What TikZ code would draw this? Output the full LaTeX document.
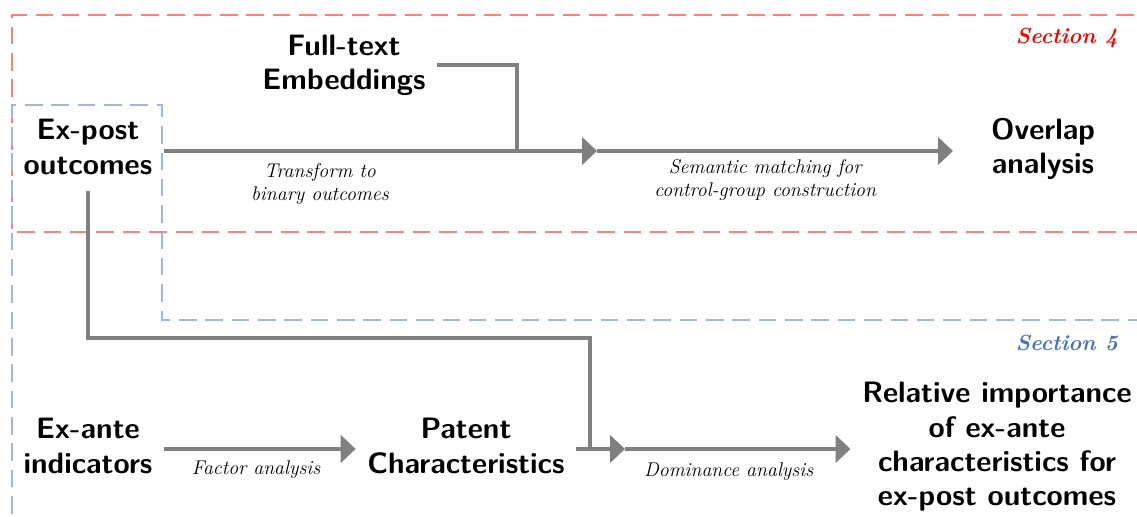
\documentclass[tikz,border=0pt]{standalone}
\usepackage{tikz}
\usetikzlibrary{arrows.meta,positioning,calc}
\definecolor{secblue}{RGB}{68,114,196}
\definecolor{boxred}{RGB}{255,128,128}
\definecolor{boxblue}{RGB}{160,182,228}

\begin{document}
\begin{tikzpicture}[x=0.02cm, y=-0.02cm,
    stage/.style={align=center, inner sep=6.5pt, font=\sffamily\bfseries\fontsize{16.8}{19.5}\selectfont},
    lbl/.style={align=center, text=black, font=\itshape\fontsize{11.3}{13}\selectfont, inner sep=2pt},
    sec/.style={anchor=east, font=\bfseries\itshape\fontsize{12.5}{15}\selectfont},
    line/.style={line width=2.6pt, gray},
    arr/.style={line, -{Triangle[length=8.5pt, width=15.5pt]}},
    frame/.style={line width=1.5pt, dash pattern=on 10pt off 5pt}
]
    \useasboundingbox (0,0) rectangle (1137,517);

    % section frames
    \draw[frame, boxred] (1160,15) -- (12,15) -- (12,232) -- (1160,232);
    \draw[frame, boxblue] (12,540) -- (12,105) -- (162,105) -- (162,320) -- (1160,320);
    \node[sec, red] (sec4) at (1124,38) {Section 4};
    \node[sec, secblue] (sec5) at (1124,343) {Section 5};

    % stages
    \node[stage] (fulltext) at (344,65) {Full-text\\Embeddings};
    \node[stage] (expost) at (88,147) {Ex-post\\outcomes};
    \node[stage] (overlap) at (1043,149) {Overlap\\analysis};
    \node[stage] (exante) at (88,446) {Ex-ante\\indicators};
    \node[stage] (patent) at (466,446) {Patent\\Characteristics};
    \node[stage] (relimp) at (997,447) {Relative importance\\of ex-ante\\characteristics for\\ex-post outcomes};

    \coordinate (j1) at (597,151);
    \coordinate (j2) at (517,151);
    \coordinate (bend) at (590,338);
    \coordinate (j3) at (590,449);
    \coordinate (j4) at (625,449);

    % section 4 flow
    \draw[arr] (expost.east |- j1) -- node[lbl, below=4pt, pos=0.36] {Transform to\\binary outcomes} (j1);
    \draw[arr, shorten >=15pt] (j1) -- node[lbl, below=1.5pt, pos=0.44] {Semantic matching for\\control-group construction} (overlap.west |- j1);
    \draw[line] (fulltext.east) -| (j2);

    % section 5 flow
    \draw[line] (expost.south) ++(0,5) |- (bend) -- (j3);
    \draw[arr] (exante.east |- j3) -- node[lbl, below=3.5pt, pos=0.48] {Factor analysis} (patent.west |- j3);
    \draw[arr] (patent.east |- j3) -- (j4);
    \draw[arr] (j4) -- node[lbl, below=4.5pt, pos=0.46] {Dominance analysis} (relimp.west |- j3);
\end{tikzpicture}
\end{document}
